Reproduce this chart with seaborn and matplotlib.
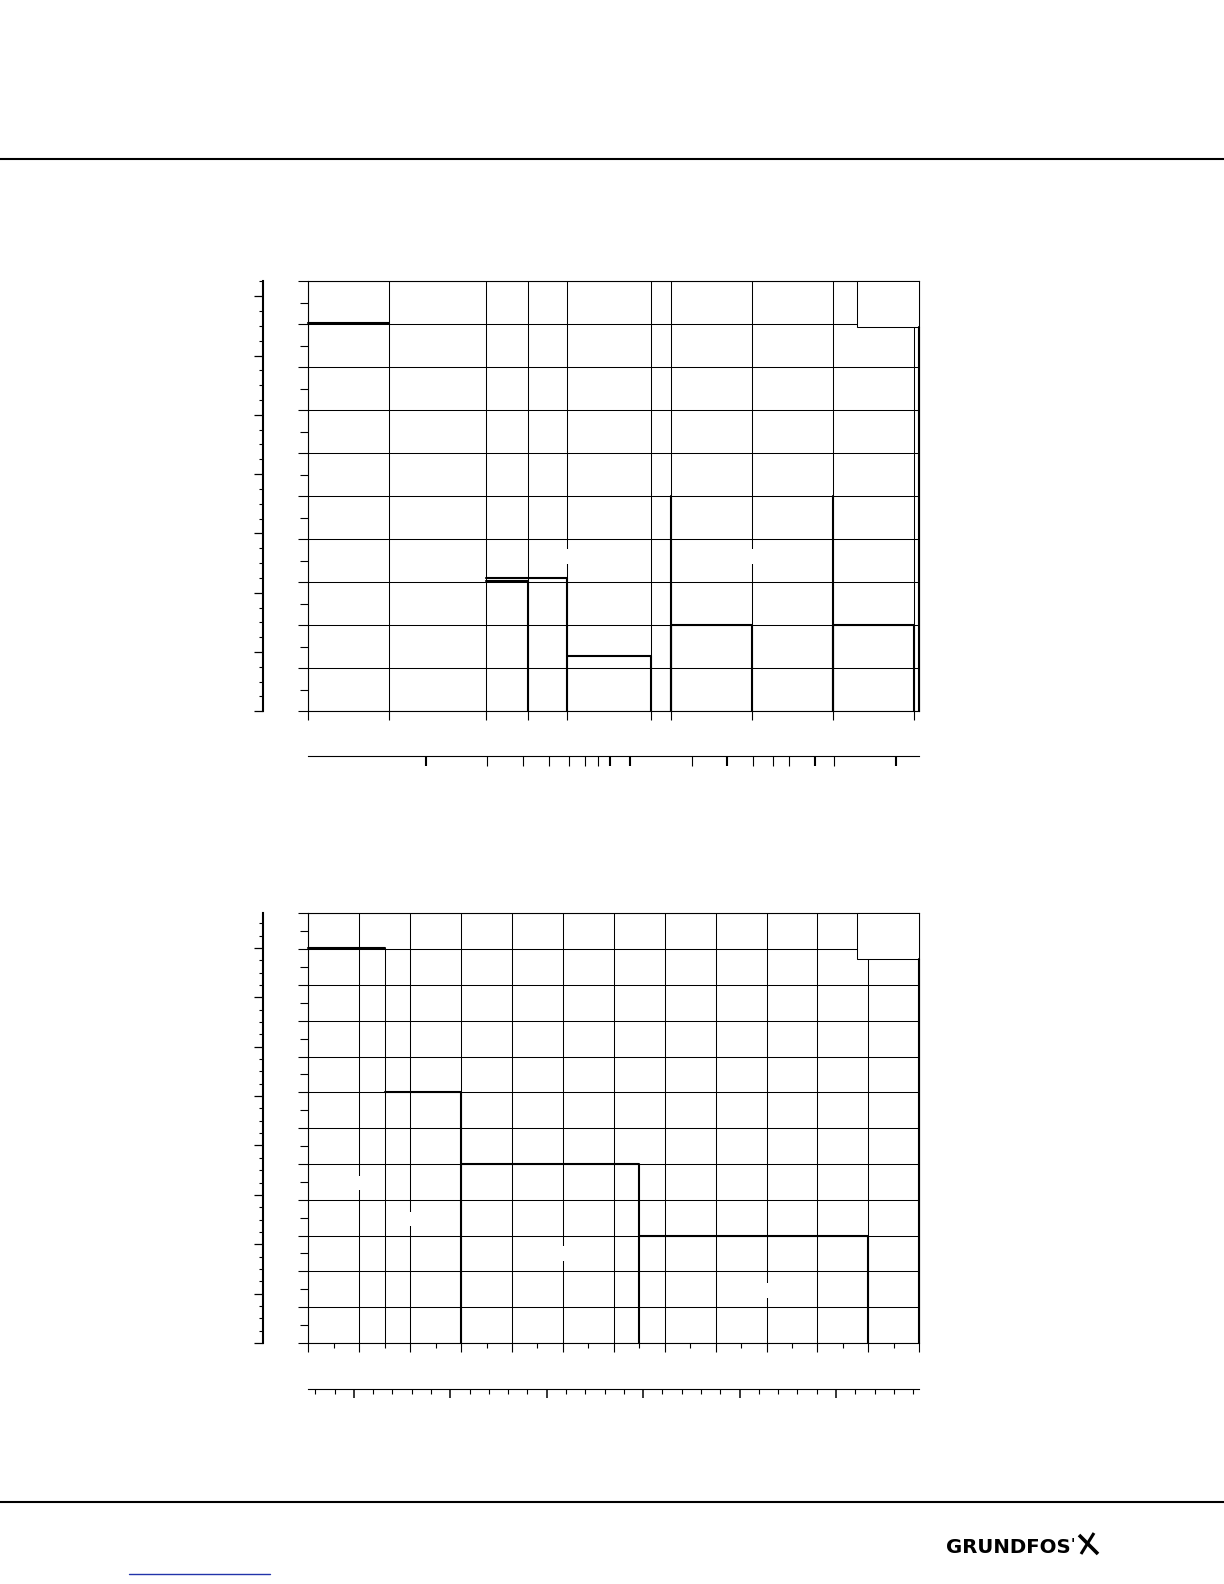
import numpy as np
import pandas as pd
import matplotlib
matplotlib.use("Agg")
import matplotlib.pyplot as plt
import seaborn as sns
from matplotlib.patches import Rectangle
from matplotlib.lines import Line2D
from matplotlib.ticker import NullLocator

sns.set_style("white")
plt.rcParams["font.family"] = ["DejaVu Sans"]

# ---------------- data: upper chart (log flow axis) ----------------
top_flow_grid = [0.2663, 0.6636, 1.980, 3.178, 4.899, 12.67, 15.82, 39.69, 98.88, 246.4]
top_flow_lim = [0.2663, 260.6]
top_head_grid = [0, 1, 2, 3, 4, 5, 6, 7, 8, 9, 10]
top_head_minor = [0.5, 1.5, 2.5, 3.5, 4.5, 5.5, 6.5, 7.5, 8.5, 9.5]
top_sec_flow_major = [1, 8, 10, 30, 80, 200]
top_sec_flow_minor = [2, 3, 4, 5, 6, 7, 20, 40, 50, 60, 100]
top_curves = {
    "a": ([0.2663, 0.6636], [9.03, 9.03]),
    "b": ([1.98, 3.178, 3.178], [3.03, 3.03, 0.0]),
    "c": ([1.98, 4.899, 4.899], [3.10, 3.10, 0.0]),
    "d": ([4.899, 12.67, 12.67], [1.29, 1.29, 0.0]),
    "e": ([15.82, 15.82, 15.82, 39.69, 39.69], [5.0, 0.0, 2.0, 2.0, 0.0]),
    "f": ([98.88, 98.88, 98.88, 246.4, 246.4], [5.0, 0.0, 2.0, 2.0, 0.0]),
    "g": ([260.6, 260.6], [8.93, 0.0]),
}
top_box_flow = [129.6, 260.6]
top_box_head = [8.93, 10.0]
top_label_flow = [4.899, 39.69]
top_label_head = [3.60, 3.60]

# ---------------- data: lower chart (linear flow axis) ----------------
bot_flow_grid = [1, 2, 3, 4, 5, 6, 7, 8, 9, 10, 11, 12, 13]
bot_flow_minor = [1.5, 2.5, 3.5, 4.5, 5.5, 6.5, 7.5, 8.5, 9.5, 10.5, 11.5, 12.5]
bot_head_grid = [0, 1, 2, 3, 4, 5, 6, 7, 8, 9, 10, 11, 12]
bot_head_minor = [0.5, 1.5, 2.5, 3.5, 4.5, 5.5, 6.5, 7.5, 8.5, 9.5, 10.5, 11.5]
bot_sec_flow_major = [25, 50, 75, 100, 125, 150]
bot_sec_flow_minor = [15, 20, 30, 35, 40, 45, 55, 60, 65, 70, 80, 85, 90, 95,
                      105, 110, 115, 120, 130, 135, 140, 145, 155, 160, 165, 170]
bot_flow_factor = 13.198
bot_curves = {
    "a": ([1.0, 2.5], [11.02, 11.02]),
    "b": ([2.5, 4.0, 4.0], [7.02, 7.02, 0.0]),
    "c": ([4.0, 7.5, 7.5], [5.0, 5.0, 0.0]),
    "d": ([7.5, 12.0, 12.0], [3.0, 3.0, 0.0]),
    "e": ([13.0, 13.0], [10.715, 0.0]),
}
bot_thin_drop = ([2.5, 2.5], [11.02, 0.0])
bot_box_flow = [11.78, 13.0]
bot_box_head = [10.715, 12.0]
bot_label_flow = [2, 3, 6, 10]
bot_label_head = [4.47, 3.47, 2.50, 1.47]

# secondary pressure axis (psi)
psi_per_bar = 14.5038
top_psi_major = [0, 20, 40, 60, 80, 100, 120, 140]
bot_psi_major = [0, 20, 40, 60, 80, 100, 120, 140, 160]
top_psi_minor = [v for v in range(0, 146, 5) if v % 20]
bot_psi_minor = [v for v in range(0, 175, 5) if v % 20]

GRID_LW = 0.75
BOLD_LW = 1.5


def frame_of(curves):
    parts = []
    for name, (f, h) in curves.items():
        parts.append(pd.DataFrame({"curve": name, "flow": f, "head": h}))
    return pd.concat(parts, ignore_index=True)


def style_axes(ax):
    for s in ax.spines.values():
        s.set_visible(True)
        s.set_color("black")
        s.set_linewidth(0.8)
    ax.grid(True, which="major", color="black", lw=GRID_LW)
    ax.set_axisbelow(True)
    ax.tick_params(axis="both", which="both", labelleft=False, labelbottom=False,
                   colors="black", direction="out")
    ax.tick_params(axis="y", which="major", left=True, length=7.2, width=0.8)
    ax.tick_params(axis="y", which="minor", left=True, length=5.5, width=0.8)
    ax.tick_params(axis="x", which="major", bottom=True, length=6.7, width=0.8)
    ax.tick_params(axis="x", which="minor", bottom=True, length=3.4, width=0.8)
    ax.set_xlabel("")
    ax.set_ylabel("")


def add_psi_axis(ax, majors, minors):
    sy = ax.secondary_yaxis(-0.0746, functions=(lambda b: b * psi_per_bar,
                                                lambda p: p / psi_per_bar))
    sy.set_yticks(majors)
    sy.set_yticks(minors, minor=True)
    sy.tick_params(axis="y", which="major", length=6.7, width=0.9, labelleft=False,
                   direction="out", colors="black")
    sy.tick_params(axis="y", which="minor", length=3.1, width=0.8, labelleft=False,
                   direction="out", colors="black")
    for s in sy.spines.values():
        s.set_color("black")
    sy.spines["left"].set_linewidth(1.5)
    return sy


def add_gaps(ax, xs, ys, h, logx):
    for x, y in zip(xs, ys):
        if logx:
            x0, x1 = x / 10 ** 0.02, x * 10 ** 0.02
        else:
            x0, x1 = x - 0.1, x + 0.1
        ax.add_patch(Rectangle((x0, y - h / 2), x1 - x0, h, fc="white", ec="none",
                               zorder=2.5))


fig = plt.figure(figsize=(12.24, 15.84), dpi=100)
fig.patch.set_facecolor("white")

# ---------------- upper chart ----------------
ax1 = fig.add_axes([0.25188, 0.55095, 0.49918, 0.27146])
ax1.set_xscale("log")
sns.lineplot(data=frame_of(top_curves), x="flow", y="head", units="curve",
             estimator=None, sort=False, color="black", linewidth=BOLD_LW,
             ax=ax1, legend=False)
ax1.set_xlim(*top_flow_lim)
ax1.set_ylim(0, 10)
ax1.set_xticks(top_flow_grid)
ax1.xaxis.set_minor_locator(NullLocator())
ax1.set_yticks(top_head_grid)
ax1.set_yticks(top_head_minor, minor=True)
style_axes(ax1)
for ln in ax1.lines:
    ln.set_clip_on(False)
    ln.set_zorder(4)
ax1.add_patch(Rectangle((top_box_flow[0], top_box_head[0]),
                        top_box_flow[1] - top_box_flow[0],
                        top_box_head[1] - top_box_head[0],
                        fc="white", ec="black", lw=GRID_LW, zorder=3, clip_on=False))
add_gaps(ax1, top_label_flow, top_label_head, 0.37, True)

sx1 = ax1.secondary_xaxis(-0.1047, functions=(lambda v: v, lambda v: v))
sx1.set_xticks(top_sec_flow_major)
sx1.set_xticks(top_sec_flow_minor, minor=True)
sx1.tick_params(axis="x", which="major", length=7.2, width=1.5, labelbottom=False,
                direction="out", colors="black")
sx1.tick_params(axis="x", which="minor", length=7.2, width=0.8, labelbottom=False,
                direction="out", colors="black")
sx1.spines["bottom"].set_color("black")
sx1.spines["bottom"].set_linewidth(0.8)
add_psi_axis(ax1, top_psi_major, top_psi_minor)

# ---------------- lower chart ----------------
ax2 = fig.add_axes([0.25188, 0.15215, 0.49918, 0.27127])
sns.lineplot(data=frame_of(bot_curves), x="flow", y="head", units="curve",
             estimator=None, sort=False, color="black", linewidth=BOLD_LW,
             ax=ax2, legend=False)
sns.lineplot(x=bot_thin_drop[0], y=bot_thin_drop[1], estimator=None, sort=False,
             color="black", linewidth=GRID_LW, ax=ax2, legend=False)
ax2.set_xlim(1, 13)
ax2.set_ylim(0, 12)
ax2.set_xticks(bot_flow_grid)
ax2.set_xticks(bot_flow_minor, minor=True)
ax2.set_yticks(bot_head_grid)
ax2.set_yticks(bot_head_minor, minor=True)
style_axes(ax2)
for ln in ax2.lines:
    ln.set_clip_on(False)
    ln.set_zorder(4)
ax2.add_patch(Rectangle((bot_box_flow[0], bot_box_head[0]),
                        bot_box_flow[1] - bot_box_flow[0],
                        bot_box_head[1] - bot_box_head[0],
                        fc="white", ec="black", lw=GRID_LW, zorder=3, clip_on=False))
add_gaps(ax2, bot_label_flow, bot_label_head, 0.40, False)

sx2 = ax2.secondary_xaxis(-0.1064, functions=(lambda q: q * bot_flow_factor,
                                               lambda g: g / bot_flow_factor))
sx2.set_xticks(bot_sec_flow_major)
sx2.set_xticks(bot_sec_flow_minor, minor=True)
sx2.tick_params(axis="x", which="major", length=6.7, width=1.1, labelbottom=False,
                direction="out", colors="black")
sx2.tick_params(axis="x", which="minor", length=3.4, width=0.8, labelbottom=False,
                direction="out", colors="black")
sx2.spines["bottom"].set_color("black")
sx2.spines["bottom"].set_linewidth(0.8)
add_psi_axis(ax2, bot_psi_major, bot_psi_minor)

# ---------------- page furniture ----------------
fig.add_artist(Line2D([0, 1], [1 - 159 / 1584] * 2, transform=fig.transFigure,
                      color="black", lw=1.5))
fig.add_artist(Line2D([0, 1], [1 - 1502 / 1584] * 2, transform=fig.transFigure,
                      color="black", lw=1.5))
fig.add_artist(Line2D([129 / 1224, 270 / 1224], [1 - 1573.5 / 1584] * 2,
                      transform=fig.transFigure, color="#2233aa", lw=1.0))
fig.text(946 / 1224, 1 - 1553 / 1584, "GRUNDFOS", fontsize=14.2, fontweight="bold",
         ha="left", va="baseline", color="black", family=["DejaVu Sans"])
fig.text(1071 / 1224, 1 - 1537 / 1584, "'", fontsize=10, fontweight="bold",
         ha="left", va="top", color="black")
fig.add_artist(Line2D([1079 / 1224, 1098 / 1224], [1 - 1535 / 1584, 1 - 1554 / 1584],
                      transform=fig.transFigure, color="black", lw=2.6,
                      solid_capstyle="butt"))
fig.add_artist(Line2D([1094 / 1224, 1081 / 1224], [1 - 1533 / 1584, 1 - 1554 / 1584],
                      transform=fig.transFigure, color="black", lw=2.2,
                      solid_capstyle="butt"))

fig.savefig("out.png", dpi=100, facecolor="white")
